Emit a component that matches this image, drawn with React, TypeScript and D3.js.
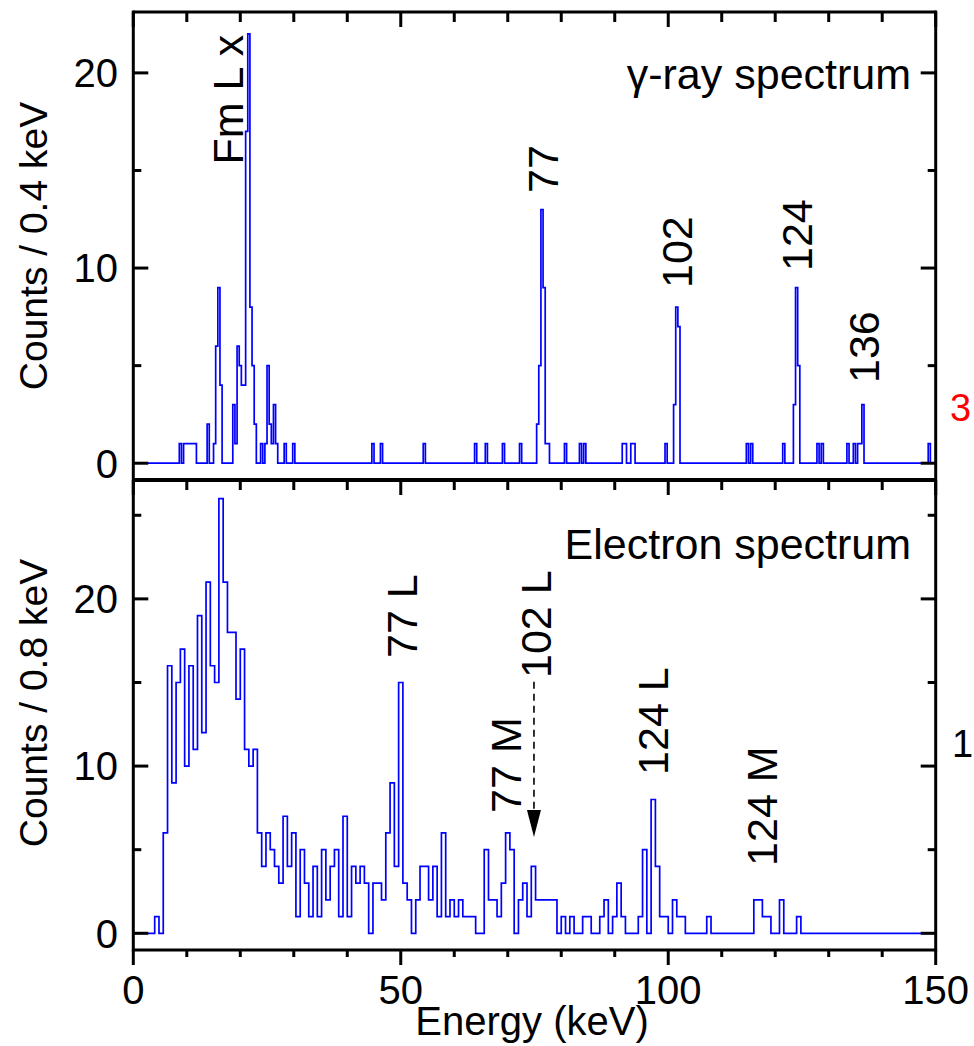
import React from 'react';
import * as d3 from 'd3';

// ---------- data ----------
// gamma spectrum: bin centres (keV, 0.4 keV bins) of non-empty bins and their counts
const gammaBinCentres = [
  8.8, 9.6, 10.0, 10.4, 10.8, 11.2, 11.6, 14.0, 15.2, 15.6, 16.0, 16.4,
  18.8, 19.2, 19.6, 20.0, 20.4, 20.8, 21.2, 21.6, 22.0, 22.4, 22.8,
  24.0, 24.8, 25.2, 25.6, 26.0, 26.4, 26.8, 28.4, 30.0,
  44.8, 46.4, 54.4, 64.0, 66.0, 69.2, 72.4,
  75.6, 76.0, 76.4, 76.8, 77.2, 77.6, 80.8, 83.6, 84.4,
  91.6, 92.0, 93.2, 93.6, 99.6, 101.2, 101.6, 102.0,
  114.8, 115.6, 121.6, 123.6, 124.0, 124.4, 128.0, 128.8,
  133.6, 134.8, 135.6, 136.0, 136.4, 148.8,
];
const gammaCounts = [
  1, 1, 1, 1, 1, 1, 1, 2, 1, 6, 9, 4,
  3, 1, 6, 5, 4, 4, 17, 22, 8, 5, 2,
  1, 1, 5, 2, 1, 3, 1, 1, 1,
  1, 1, 1, 1, 1, 1, 1,
  2, 5, 13, 9, 1, 1, 1, 1, 1,
  1, 1, 1, 1, 1, 3, 8, 7,
  1, 1, 1, 3, 9, 5, 1, 1,
  1, 1, 1, 1, 3, 1,
];
const gammaBinWidth = 0.4;

// electron spectrum: 0.8 keV bins, consecutive counts starting at electronFirstBin (keV)
const electronFirstBin = 4.0;
const electronBinWidth = 0.8;
const electronCounts = [
  1, 0, 6, 16, 9, 15, 17, 10, 16, 11, 19, 12, 21, 16, 15, 26, 21, 18, 18, 14,
  17, 11, 10, 11, 6, 4, 6, 5, 4, 3, 7, 4, 6, 1, 5, 3, 1, 4, 1, 5,
  2, 4, 5, 1, 7, 1, 4, 3, 4, 3, 0, 3, 3, 2, 6, 9, 4, 15, 3, 2,
  0, 2, 4, 4, 2, 4, 1, 6, 1, 2, 1, 2, 1, 1, 1, 0, 0, 5, 2, 2,
  1, 3, 6, 5, 0, 2, 3, 1, 4, 2, 2, 2, 2, 2, 0, 1, 0, 1, 0, 0,
  1, 1, 0, 0, 1, 2, 0, 1, 3, 1, 0, 0, 0, 1, 5, 0, 8, 4, 1, 1,
  0, 2, 1, 1, 0, 0, 0, 0, 0, 1, 0, 0, 0, 0, 0, 0, 0, 0, 0, 0,
  2, 2, 1, 1, 0, 0, 2, 0, 0, 0, 1,
];

const xMajor = [0, 50, 100, 150];
const xMinor = [10, 20, 30, 40, 60, 70, 80, 90, 110, 120, 130, 140];
const gammaYMajor = [0, 10, 20];
const gammaYMinor = [5, 15];
const elecYMajor = [0, 10, 20];
const elecYMinor = [5, 15, 25];

// peak labels: text, energy (keV) and counts where the rotated text begins
const gammaLabels = [
  { text: 'Fm L x', e: 20.56, c: 15.3 },
  { text: '77', e: 79.4, c: 13.85 },
  { text: '102', e: 104.4, c: 8.98 },
  { text: '124', e: 126.9, c: 9.85 },
  { text: '136', e: 139.4, c: 4.11 },
];
const electronLabels = [
  { text: '77 L', e: 53.0, c: 16.47 },
  { text: '102 L', e: 78.1, c: 15.27 },
  { text: '77 M', e: 72.5, c: 7.2 },
  { text: '124 L', e: 99.96, c: 9.47 },
  { text: '124 M', e: 120.3, c: 4.03 },
];
const arrowE = 74.9;
const arrowFrom = 15.05;
const arrowTo = 5.76;

// ---------- layout ----------
const W = 974;
const H = 1046;
const FONT = '"Liberation Sans", Arial, Helvetica, sans-serif';
const BLUE = '#0000ff';

const x = d3.scaleLinear().domain([0, 150]).range([133.3, 935.7]);
const yTop = d3.scaleLinear().domain([-0.86, 23.12]).range([480, 12]);
const yBot = d3.scaleLinear().domain([-1.0, 27.11]).range([950, 480]);

function gammaPoints(): [number, number][] {
  const map = new Map<number, number>();
  gammaBinCentres.forEach((e, i) => map.set(Math.round(e / gammaBinWidth), gammaCounts[i]));
  const pts: [number, number][] = [];
  const n = Math.round(150 / gammaBinWidth);
  for (let k = 0; k <= n; k++) {
    const lo = Math.max(0, k * gammaBinWidth - gammaBinWidth / 2);
    const hi = Math.min(150, k * gammaBinWidth + gammaBinWidth / 2);
    const c = map.get(k) ?? 0;
    pts.push([lo, c], [hi, c]);
  }
  return pts;
}

function electronPoints(): [number, number][] {
  const pts: [number, number][] = [];
  const first = Math.round(electronFirstBin / electronBinWidth);
  const n = Math.ceil(150 / electronBinWidth);
  for (let k = 0; k < n; k++) {
    const lo = k * electronBinWidth;
    const hi = Math.min(150, lo + electronBinWidth);
    const idx = k - first;
    const c = idx >= 0 && idx < electronCounts.length ? electronCounts[idx] : 0;
    pts.push([lo, c], [hi, c]);
  }
  return pts;
}

export default function App() {
  const x0 = x(0);
  const x1 = x(150);
  const topY0 = yTop.range()[1];
  const topY1 = yTop.range()[0];
  const botY0 = yBot.range()[1];
  const botY1 = yBot.range()[0];

  const lineTop = d3.line<[number, number]>().x((d) => x(d[0])).y((d) => yTop(d[1]));
  const lineBot = d3.line<[number, number]>().x((d) => x(d[0])).y((d) => yBot(d[1]));

  const tickW = 3;
  const majorLen = 15;
  const minorLen = 8;

  const yTicks = (scale: d3.ScaleLinear<number, number>, major: number[], minor: number[]) => (
    <g stroke="#000" strokeWidth={tickW}>
      {major.map((v) => (
        <g key={'M' + v}>
          <line x1={x0} x2={x0 + majorLen} y1={scale(v)} y2={scale(v)} />
          <line x1={x1} x2={x1 - majorLen} y1={scale(v)} y2={scale(v)} />
        </g>
      ))}
      {minor.map((v) => (
        <g key={'m' + v}>
          <line x1={x0} x2={x0 + minorLen} y1={scale(v)} y2={scale(v)} />
          <line x1={x1} x2={x1 - minorLen} y1={scale(v)} y2={scale(v)} />
        </g>
      ))}
    </g>
  );

  const yLabels = (scale: d3.ScaleLinear<number, number>, major: number[]) => (
    <g fontFamily={FONT} fontSize={40} textAnchor="end">
      {major.map((v) => (
        <text key={v} x={118} y={scale(v) + 14.3}>
          {v}
        </text>
      ))}
    </g>
  );

  const rotLabel = (key: string, text: string, px: number, py: number) => (
    <text
      key={key}
      transform={`translate(${px},${py}) rotate(-90)`}
      fontFamily={FONT}
      fontSize={43}
      textAnchor="start"
    >
      {text}
    </text>
  );

  return (
    <svg
      width={W}
      height={H}
      viewBox={`0 0 ${W} ${H}`}
      style={{ position: 'absolute', left: 0, top: 0, background: '#fff' }}
    >
      <rect x={0} y={0} width={W} height={H} fill="#fff" />

      {/* histograms */}
      <path d={lineTop(gammaPoints()) || ''} fill="none" stroke={BLUE} strokeWidth={1.7} />
      <path d={lineBot(electronPoints()) || ''} fill="none" stroke={BLUE} strokeWidth={1.7} />

      {/* y ticks */}
      {yTicks(yTop, gammaYMajor, gammaYMinor)}
      {yTicks(yBot, elecYMajor, elecYMinor)}

      {/* x ticks */}
      <g stroke="#000" strokeWidth={tickW}>
        {xMajor.map((v) => (
          <line key={'tt' + v} x1={x(v)} x2={x(v)} y1={topY0} y2={topY0 + majorLen} />
        ))}
        {xMinor.map((v) => (
          <line key={'tm' + v} x1={x(v)} x2={x(v)} y1={topY0} y2={topY0 + 10} />
        ))}
        {xMajor.map((v) => (
          <line key={'bt' + v} x1={x(v)} x2={x(v)} y1={topY1} y2={topY1 + majorLen} />
        ))}
        {xMinor.map((v) => (
          <line key={'bm' + v} x1={x(v)} x2={x(v)} y1={topY1} y2={topY1 + 10} />
        ))}
        {xMajor.map((v) => (
          <line key={'xt' + v} x1={x(v)} x2={x(v)} y1={botY1} y2={botY1 + majorLen} />
        ))}
        {xMinor.map((v) => (
          <line key={'xm' + v} x1={x(v)} x2={x(v)} y1={botY1} y2={botY1 + 7} />
        ))}
      </g>

      {/* frames */}
      <g stroke="#000" strokeWidth={3} fill="none">
        <line x1={x0} x2={x1} y1={topY0} y2={topY0} />
        <line x1={x0} x2={x0} y1={topY0 - 1.5} y2={botY1 + 1.5} />
        <line x1={x1} x2={x1} y1={topY0 - 1.5} y2={botY1 + 1.5} />
        <line x1={x0} x2={x1} y1={botY1} y2={botY1} />
      </g>
      <line x1={x0} x2={x1} y1={(topY1 + botY0) / 2} y2={(topY1 + botY0) / 2} stroke="#000" strokeWidth={4} />

      {/* tick labels */}
      {yLabels(yTop, gammaYMajor)}
      {yLabels(yBot, elecYMajor)}
      <g fontFamily={FONT} fontSize={40} textAnchor="middle">
        {xMajor.map((v) => (
          <text key={v} x={x(v)} y={1004}>
            {v}
          </text>
        ))}
      </g>

      {/* axis titles */}
      <text x={532} y={1035} fontFamily={FONT} fontSize={40} textAnchor="middle">
        Energy (keV)
      </text>
      <text
        transform={`translate(47,${(topY0 + topY1) / 2}) rotate(-90)`}
        fontFamily={FONT}
        fontSize={39}
        textAnchor="middle"
      >
        Counts / 0.4 keV
      </text>
      <text
        transform={`translate(47,${(botY0 + botY1) / 2 - 12}) rotate(-90)`}
        fontFamily={FONT}
        fontSize={39}
        textAnchor="middle"
      >
        Counts / 0.8 keV
      </text>

      {/* panel titles */}
      <text x={x(145.4)} y={yTop(19.17)} fontFamily={FONT} fontSize={43} textAnchor="end">
        γ-ray spectrum
      </text>
      <text x={x(145.4)} y={yBot(22.39)} fontFamily={FONT} fontSize={43} textAnchor="end">
        Electron spectrum
      </text>

      {/* peak labels */}
      {gammaLabels.map((l) => rotLabel('g' + l.text, l.text, x(l.e), yTop(l.c)))}
      {electronLabels.map((l) => rotLabel('e' + l.text, l.text, x(l.e), yBot(l.c)))}

      {/* dashed arrow */}
      <line
        x1={x(arrowE)}
        x2={x(arrowE)}
        y1={yBot(arrowFrom)}
        y2={yBot(arrowTo) - 24}
        stroke="#000"
        strokeWidth={1.6}
        strokeDasharray="7,5"
      />
      <path
        d={`M${x(arrowE) - 7},${yBot(arrowTo) - 27} L${x(arrowE) + 7},${yBot(arrowTo) - 27} L${x(arrowE)},${yBot(arrowTo)} Z`}
        fill="#000"
      />

      {/* labels of the neighbouring panel, at the right edge */}
      <text x={950} y={421} fontFamily={FONT} fontSize={38} fill="#ff0000">
        3
      </text>
      <text x={952} y={757} fontFamily={FONT} fontSize={38} fill="#000">
        1
      </text>
    </svg>
  );
}
